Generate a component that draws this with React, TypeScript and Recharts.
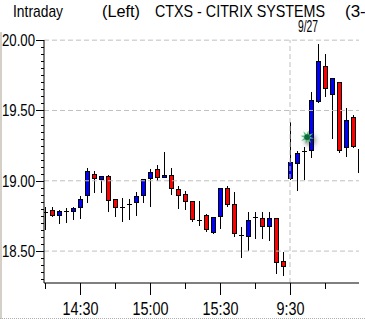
import React from 'react';
import { ComposedChart, Bar, XAxis, YAxis, ReferenceLine, ReferenceDot } from 'recharts';

// 3-minute bars: 14:15–15:57 of the prior session, then the 9/27 open from 9:30
const barIndex = [
  0, 1, 2, 3, 4, 5, 6, 7, 8, 9, 10, 11, 12, 13, 14, 15, 16, 17, 18, 19, 20, 21, 22,
  23, 24, 25, 26, 27, 28, 29, 30, 31, 32, 33, 34, 35, 36, 37, 38, 39, 40, 41, 42, 43, 44, 45,
];
const opens = [
  18.78, 18.79, 18.755, 18.785, 18.785, 18.815, 18.9, 19.05, 19.015, 19.035, 18.87, 18.815,
  18.835, 18.85, 18.9, 19.02, 19.085, 19.025, 19.04, 18.94, 18.905, 18.855, 18.72, 18.755,
  18.635, 18.75, 18.95, 18.835, 18.615, 18.605, 18.74, 18.735, 18.68, 18.735, 18.43,
  19.02, 19.125, 19.21, 19.22, 19.565, 19.815, 19.615, 19.7, 19.24, 19.45, 19.225,
];
const highs = [
  18.81, 18.81, 18.79, 18.805, 18.815, 18.895, 19.09, 19.07, 19.035, 19.04, 18.87, 18.875,
  18.87, 18.92, 19.015, 19.085, 19.11, 19.205, 19.09, 18.96, 18.925, 18.855, 18.855, 18.765,
  18.745, 18.95, 18.96, 18.92, 18.67, 18.78, 18.78, 18.78, 18.78, 18.735, 18.495,
  19.415, 19.21, 19.24, 19.63, 19.97, 19.905, 19.73, 19.7, 19.515, 19.465, 19.225,
];
const lows = [
  18.66, 18.75, 18.7, 18.705, 18.73, 18.735, 18.85, 18.92, 18.92, 18.785, 18.75, 18.715,
  18.73, 18.755, 18.85, 18.82, 19.005, 19.025, 18.905, 18.805, 18.8, 18.715, 18.685, 18.645,
  18.63, 18.665, 18.82, 18.605, 18.46, 18.51, 18.595, 18.595, 18.58, 18.345, 18.33,
  19.01, 18.935, 19.01, 19.17, 19.56, 19.6, 19.305, 19.205, 19.175, 19.24, 19.06,
];
const closes = [
  18.78, 18.76, 18.785, 18.785, 18.805, 18.87, 19.07, 19.02, 19.035, 18.865, 18.815, 18.815,
  18.835, 18.89, 19.01, 19.06, 19.025, 19.04, 18.95, 18.9, 18.855, 18.73, 18.72, 18.655,
  18.74, 18.95, 18.835, 18.63, 18.615, 18.72, 18.74, 18.68, 18.735, 18.425, 18.395,
  19.135, 19.195, 19.21, 19.575, 19.85, 19.66, 19.73, 19.22, 19.43, 19.245, 19.06,
];

const xTickIndices = [0, 5, 10, 15, 20, 25, 30, 35, 40];
const xTickLabels: Record<number, string> = { 5: '14:30', 15: '15:00', 25: '15:30', 35: '9:30' };
const yMajorLevels = [18.5, 19, 19.5, 20];
const yTickValues = Array.from({ length: 35 }, (_, k) => Math.round((18.3 + 0.05 * k) * 100) / 100);
const sessionBreakIndex = 35;
const sessionDate = '9/27';
const markerIndex = 37.45;
const markerPrice = 19.31;

const titleLeft = 'Intraday';
const titleSide = '(Left)';
const titleSymbol = 'CTXS - CITRIX SYSTEMS';
const titleInterval = '(3-Minute)';

const rows = barIndex.map((i, k) => ({
  i,
  open: opens[k],
  high: highs[k],
  low: lows[k],
  close: closes[k],
}));

const FONT = "'Liberation Sans Narrow', 'Liberation Sans', Arial, sans-serif";
const UP = '#0000ff';
const DOWN = '#ff0000';
const GRID = '#c0c0c0';

const Candle = (props: any) => {
  const { x, y, width, height, payload } = props;
  if (payload == null || x == null || y == null) return null;
  const { open, close, high, low } = payload;
  const top = Math.min(y, y + height);
  const span = Math.abs(height);
  const k = span / (high - low);
  const py = (v: number) => Math.round(top + (high - v) * k);
  const cx = Math.round(x + width / 2);
  const wickX = cx + 0.5;
  const yH = py(high);
  const yL = py(low);
  const yO = py(open);
  const yC = py(close);
  if (open === close) {
    return (
      <g>
        <line x1={wickX} x2={wickX} y1={yH} y2={yL + 1} stroke="#000" strokeWidth={1} />
        <line x1={cx - 2} x2={cx + 3} y1={yO + 0.5} y2={yO + 0.5} stroke="#000" strokeWidth={1} />
      </g>
    );
  }
  const bTop = Math.min(yO, yC);
  const bBot = Math.max(yO, yC);
  return (
    <g>
      <line x1={wickX} x2={wickX} y1={yH} y2={yL + 1} stroke="#000" strokeWidth={1} />
      <rect
        x={cx - 2 + 0.5}
        y={bTop + 0.5}
        width={4}
        height={Math.max(bBot - bTop, 1)}
        fill={close > open ? UP : DOWN}
        stroke="#000"
        strokeWidth={1}
      />
    </g>
  );
};

const XTick = (props: any) => {
  const { x, y, payload } = props;
  const label = xTickLabels[payload.value];
  const axisY = y - 14;
  const px = Math.round(x) + 0.5;
  return (
    <g>
      <line x1={px} x2={px} y1={axisY} y2={axisY + (label ? 12 : 6)} stroke="#000" />
      {label && (
        <text
          x={px}
          y={axisY + 32}
          textAnchor="middle"
          fontFamily={FONT}
          fontSize={18}
          fill="#000"
          textLength={label.length === 5 ? 36 : 28}
          lengthAdjust="spacingAndGlyphs"
        >
          {label}
        </text>
      )}
    </g>
  );
};

const YTick = (props: any) => {
  const { x, y, payload } = props;
  const v = payload.value as number;
  const major = yMajorLevels.some((m) => Math.abs(m - v) < 1e-6);
  const axisX = x + 9;
  const py = Math.round(y) + 0.5;
  return (
    <g>
      <line x1={axisX - (major ? 8 : 3)} x2={axisX} y1={py} y2={py} stroke="#000" />
      {major && (
        <text
          x={x}
          y={py + 5.5}
          textAnchor="end"
          fontFamily={FONT}
          fontSize={16}
          fill="#000"
          textLength={33}
          lengthAdjust="spacingAndGlyphs"
        >
          {v.toFixed(2)}
        </text>
      )}
    </g>
  );
};

const AlertStar = (props: any) => {
  const { cx, cy } = props;
  if (cx == null || cy == null) return null;
  const pts: string[] = [];
  for (let k = 0; k < 16; k++) {
    const r = k % 2 === 0 ? 7 : 2.8;
    const a = (Math.PI * 2 * k) / 16 + 0.2;
    pts.push(`${(cx + r * Math.cos(a)).toFixed(2)},${(cy + r * Math.sin(a)).toFixed(2)}`);
  }
  return (
    <g>
      <defs>
        <filter id="starShade" x="-2" y="-2" width="5" height="5">
          <feGaussianBlur stdDeviation="2.4" />
        </filter>
        <filter id="starSoft" x="-1" y="-1" width="3" height="3">
          <feGaussianBlur stdDeviation="0.6" />
        </filter>
      </defs>
      <circle cx={cx + 3} cy={cy + 3} r={5.5} fill="#222" opacity={0.5} filter="url(#starShade)" />
      <polygon points={pts.join(' ')} fill="#4cbf7c" filter="url(#starSoft)" />
      <circle cx={cx} cy={cy} r={2.8} fill="#0f6b38" />
    </g>
  );
};

const SessionLabel = (props: any) => {
  const vb = props.viewBox || {};
  return (
    <text
      x={vb.x + 8}
      y={vb.y - 8}
      fontFamily={FONT}
      fill="#000"
      style={{ fontSize: 17 }}
      textLength={20}
      lengthAdjust="spacingAndGlyphs"
    >
      {sessionDate}
    </text>
  );
};

export default function App() {
  return (
    <div style={{ position: 'absolute', left: 0, top: 0, width: 365, height: 319, background: '#fff', overflow: 'hidden' }}>
      <div style={{ position: 'absolute', left: 0, top: 32, width: 2, height: 287, background: '#d4d0c8' }} />
      <div style={{ position: 'absolute', left: 0, top: 318, width: 365, height: 0, borderTop: '1px dotted #b0b0b0' }} />
      <ComposedChart
        width={365}
        height={319}
        data={rows}
        margin={{ top: 40, right: 6, bottom: 0, left: 0 }}
        style={{ position: 'absolute', left: 0, top: 0 }}
      >
        <text x={13} y={17} fontFamily={FONT} fontSize={17} fill="#000" textLength={50} lengthAdjust="spacingAndGlyphs">
          {titleLeft}
        </text>
        <text x={102} y={17} fontFamily={FONT} fontSize={17} fill="#000" textLength={38} lengthAdjust="spacingAndGlyphs">
          {titleSide}
        </text>
        <text x={155} y={17} fontFamily={FONT} fontSize={17} fill="#000" textLength={170} lengthAdjust="spacingAndGlyphs">
          {titleSymbol}
        </text>
        <text x={345} y={17} fontFamily={FONT} fontSize={17} fill="#000">
          {titleInterval}
        </text>
        <XAxis
          type="number"
          dataKey="i"
          domain={[-1 / 7, 45 - 1 / 7]}
          ticks={xTickIndices}
          interval={0}
          allowDataOverflow
          axisLine={{ stroke: '#000' }}
          tickLine={false}
          tickSize={12}
          tickMargin={2}
          height={36}
          tick={<XTick />}
        />
        <YAxis
          type="number"
          domain={[18.273, 20.001]}
          ticks={yTickValues}
          interval={0}
          allowDataOverflow
          width={44}
          axisLine={{ stroke: '#000' }}
          tickLine={false}
          tickSize={8}
          tickMargin={1}
          tick={<YTick />}
        />
        {yMajorLevels.map((lv) => (
          <ReferenceLine key={lv} y={lv} stroke={GRID} strokeDasharray="5 3" />
        ))}
        <ReferenceLine x={sessionBreakIndex} stroke={GRID} strokeDasharray="5 3" label={<SessionLabel />} />
        <Bar
          dataKey={(d: any) => [d.low, d.high]}
          barSize={7}
          shape={<Candle />}
          isAnimationActive={false}
        />
        <ReferenceDot x={markerIndex} y={markerPrice} shape={<AlertStar />} />
      </ComposedChart>
    </div>
  );
}
